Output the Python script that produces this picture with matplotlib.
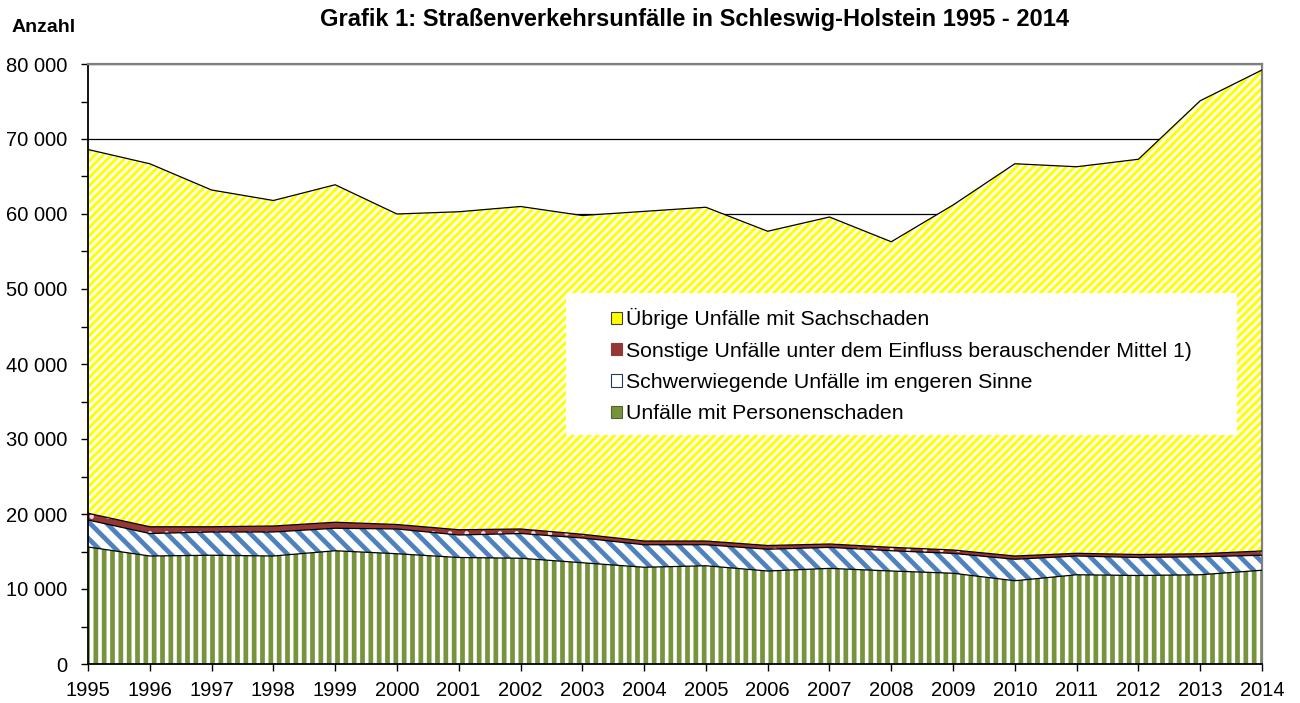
import numpy as np
import matplotlib
matplotlib.use("Agg")
import matplotlib.pyplot as plt
from matplotlib.patches import Patch, Rectangle
from matplotlib.ticker import MultipleLocator, FuncFormatter

plt.rcParams['font.family'] = ['Liberation Sans', 'DejaVu Sans']

years = list(range(1995, 2015))
personenschaden = [15600, 14400, 14500, 14400, 15100, 14700, 14200, 14100, 13500, 12900,
                   13100, 12400, 12750, 12400, 12100, 11100, 11900, 11800, 11900, 12500]
schwerwiegend = [3600, 3000, 3100, 3200, 3000, 3300, 3000, 3300, 3300, 3000,
                 2800, 2900, 2800, 2700, 2650, 2860, 2500, 2400, 2400, 2000]
berauschend = [900, 900, 700, 800, 800, 600, 700, 600, 500, 500,
               500, 500, 450, 460, 450, 440, 360, 400, 400, 570]
sachschaden = [48500, 48400, 44900, 43400, 45000, 41400, 42400, 43000, 42500, 43950,
               44500, 41900, 43600, 40740, 46000, 52300, 51540, 52700, 60400, 64130]

labels = ["Unfälle mit Personenschaden",
          "Schwerwiegende Unfälle im engeren Sinne",
          "Sonstige Unfälle unter dem Einfluss berauschender Mittel 1)",
          "Übrige Unfälle mit Sachschaden"]
title = "Grafik 1: Straßenverkehrsunfälle in Schleswig-Holstein 1995 - 2014"
ylabel = "Anzahl"

fig = plt.figure(figsize=(13, 7.03), dpi=100)
ax = fig.add_axes([88/1300, 39/703, 1174/1300, 600/703])

series = [personenschaden, schwerwiegend, berauschend, sachschaden]
styles = [
    dict(face='white', hcol='#77933C', hatch='||', hlw=3.4),
    dict(face='white', hcol='#4F81BD', hatch='\\\\', hlw=3.4),
    dict(face='#953735', hcol='#F2DCDB', hatch='.', hlw=0.8),
    dict(face='white', hcol='#FFFF00', hatch='////', hlw=2.2),
]
x = np.array(years)
bottom = np.zeros(len(years))
for vals, st in zip(series, styles):
    top = bottom + np.array(vals)
    pc = ax.fill_between(x, bottom, top, facecolor=st['face'], edgecolor=st['hcol'],
                         hatch=st['hatch'], linewidth=0, zorder=2)
    if hasattr(pc, 'set_hatch_linewidth'):
        pc.set_hatch_linewidth(st['hlw'])
    ax.plot(x, top, color='black', lw=0.9, zorder=3)
    bottom = top

ax.set_xlim(1995, 2014)
ax.set_ylim(0, 80000)
ax.set_xticks(years)
ax.set_xticklabels([str(y) for y in years])
ax.yaxis.set_major_locator(MultipleLocator(10000))
ax.yaxis.set_minor_locator(MultipleLocator(5000))
ax.yaxis.set_major_formatter(FuncFormatter(lambda v, p: f"{int(v):,}".replace(",", " ")))
ax.tick_params(axis='y', which='both', direction='out', length=5, width=1, pad=10, labelsize=14.5)
ax.tick_params(axis='x', which='both', direction='out', length=5, width=1, pad=7, labelsize=14.5)
ax.grid(axis='y', which='major', color='black', lw=0.9, zorder=0)
ax.set_axisbelow(True)
for s in ['left', 'bottom']:
    ax.spines[s].set_color('black')
    ax.spines[s].set_linewidth(1.3)
for s in ['top', 'right']:
    ax.spines[s].set_color('#808080')
    ax.spines[s].set_linewidth(1.6)

ax.add_patch(Rectangle((0.4071, 0.3817), 0.5716, 0.2367, transform=ax.transAxes,
                       facecolor='white', edgecolor='none', zorder=5))
handles = [
    Patch(facecolor='#FFFF00', edgecolor='#404040', lw=0.8),
    Patch(facecolor='#953735', edgecolor='#953735', lw=0.8),
    Patch(facecolor='white', edgecolor='#1F3864', lw=0.8),
    Patch(facecolor='#77933C', edgecolor='#4F6228', lw=0.8),
]
leg = ax.legend(handles, labels[::-1], loc='upper left', bbox_to_anchor=(0.4452, 0.593),
                frameon=False, fontsize=15.3, borderpad=0, borderaxespad=0,
                handlelength=0.52, handleheight=0.52, handletextpad=0.2, labelspacing=0.58)
leg.set_zorder(6)

fig.text(694/1300, 1 - 26/703, title, fontsize=17, fontweight='bold', ha='center', va='baseline')
fig.text(12/1300, 1 - 32/703, ylabel, fontsize=14, fontweight='bold', ha='left', va='baseline')

fig.savefig('out.png', dpi=100)
